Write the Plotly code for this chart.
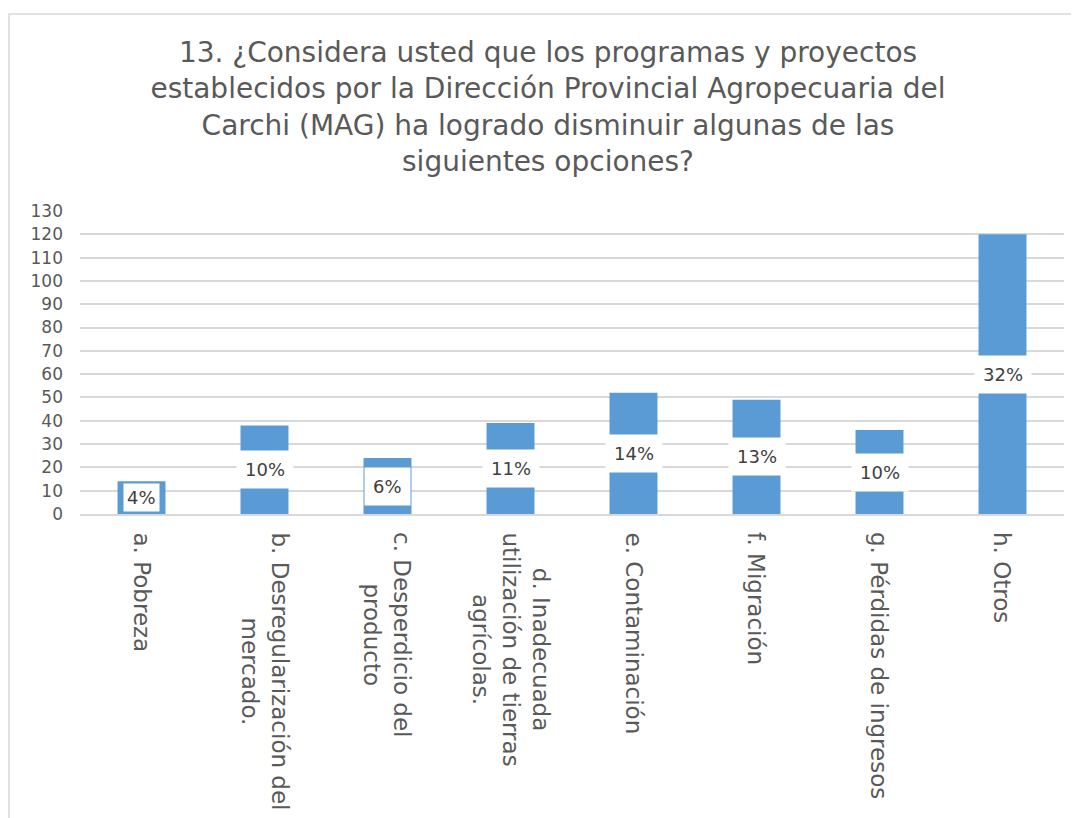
import plotly.graph_objects as go

categories = [
    "a. Pobreza",
    "b. Desregularización del<br>mercado.",
    "c. Desperdicio del<br>producto",
    "d. Inadecuada<br>utilización de tierras<br>agrícolas.",
    "e. Contaminación",
    "f. Migración",
    "g. Pérdidas de ingresos",
    "h. Otros",
]
values = [14, 38, 24, 39, 52, 49, 36, 120]
pct_labels = ["4%", "10%", "6%", "11%", "14%", "13%", "10%", "32%"]
y_ticks = list(range(0, 131, 10))

TITLE = ("13. ¿Considera usted que los programas y proyectos<br>"
         "establecidos por la Dirección Provincial Agropecuaria del<br>"
         "Carchi (MAG) ha logrado disminuir algunas de las<br>"
         "siguientes opciones?")

BAR = "#5B9BD5"
GRID = "#D9D9D9"
TEXT = "#595959"
FONT = "DejaVu Sans"

# page body has an 8px margin, so the figure is 8px smaller than the window
W, H = 1071, 810
L, R, T, B = 72, 15, 203, 304

fig = go.Figure(
    go.Bar(
        x=categories,
        y=values,
        marker=dict(color=BAR, line=dict(width=0)),
        hoverinfo="x+y",
    )
)

for cat, v, lab in zip(categories, values, pct_labels):
    # small bars get a tighter box so the bar edge still shows around it
    pad = 3 if v < 20 else 8
    fig.add_annotation(
        x=cat, y=v / 2, text=lab, showarrow=False,
        bgcolor="white", borderpad=pad,
        font=dict(family=FONT, size=18, color="#404040"),
    )

pw, ph = W - L - R, H - T - B

# category labels: rotated, lines centred on each other
for cat in categories:
    fig.add_annotation(
        x=cat, y=-16 / ph, xref="x", yref="paper", text=cat, showarrow=False,
        textangle=90, align="center", yanchor="top", xanchor="center",
        font=dict(family=FONT, size=23, color=TEXT),
    )

fig.add_shape(
    type="rect", xref="paper", yref="paper",
    x0=(1 - L) / pw, x1=(W + 20 - L) / pw,
    y0=-(H + 20 - T - ph) / ph, y1=(H - 6 - B) / ph,
    line=dict(color=GRID, width=1.5), fillcolor="rgba(0,0,0,0)", layer="below",
)

fig.update_layout(
    width=W, height=H,
    paper_bgcolor="white", plot_bgcolor="white",
    margin=dict(l=L, r=R, t=T, b=B),
    font=dict(family=FONT, color=TEXT),
    bargap=0.61,
    showlegend=False,
    title=dict(
        text=TITLE, x=540 / W, xanchor="center", xref="container",
        y=1 - 54 / H, yanchor="top",
        font=dict(family=FONT, size=28, color=TEXT),
    ),
)
fig.update_xaxes(
    showticklabels=False,
    showline=True, linecolor=GRID, linewidth=1.5, ticks="",
)
fig.update_yaxes(
    range=[0, 130], tickvals=y_ticks, showgrid=True, gridcolor=GRID, gridwidth=1.5,
    zeroline=False, tickfont=dict(family=FONT, size=17, color=TEXT), ticks="",
    ticklabelstandoff=16,
)

fig.write_html("out.html")
